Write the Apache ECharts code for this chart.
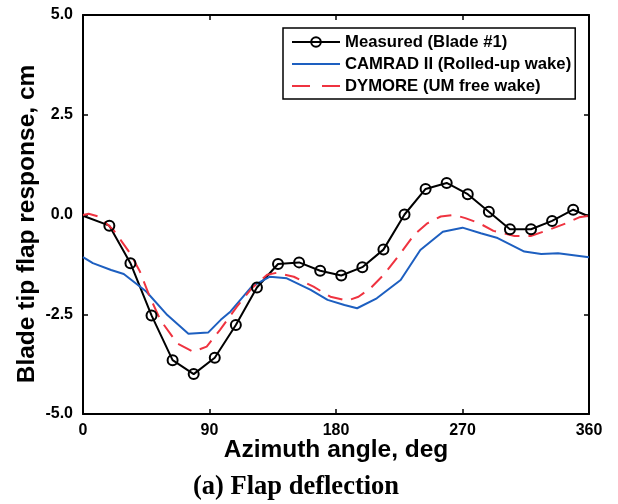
<!DOCTYPE html>
<html>
<head>
<meta charset="utf-8">
<script src="https://cdn.jsdelivr.net/npm/echarts@6/dist/echarts.min.js"></script>
<style>
  html, body { margin: 0; padding: 0; background: #fff; }
  #chart { width: 618px; height: 504px; }
</style>
</head>
<body>
<div id="chart"></div>
<script>
// Azimuth stations and blade tip flap response (cm)
const azMeasured = [0, 18.75, 33.75, 48.75, 63.75, 78.75, 93.75, 108.75, 123.75, 138.75,
  153.75, 168.75, 183.75, 198.75, 213.75, 228.75, 243.75, 258.75, 273.75, 288.75,
  303.75, 318.75, 333.75, 348.75, 360];
const measured = [-0.03, -0.28, -1.22, -2.53, -3.65, -4.00, -3.59, -2.77, -1.83, -1.24,
  -1.20, -1.41, -1.53, -1.32, -0.88, 0.00, 0.64, 0.79, 0.51, 0.07,
  -0.37, -0.37, -0.16, 0.12, -0.05];

const azCamrad = [0, 7, 20, 29, 45, 60, 75, 89, 98, 105, 120, 133, 145, 162, 174,
  186, 195, 209, 226, 240, 256, 270, 283, 295, 314, 326, 338, 360];
const camrad = [-1.07, -1.22, -1.39, -1.49, -1.93, -2.52, -2.99, -2.96, -2.64, -2.43,
  -1.81, -1.56, -1.60, -1.89, -2.14, -2.27, -2.35, -2.10, -1.64, -0.89,
  -0.43, -0.33, -0.47, -0.59, -0.93, -0.99, -0.97, -1.07];

const azDymore = [0, 4, 11, 21.5, 33.5, 40.5, 47.5, 55, 67, 78.5, 88, 97.5, 109.5, 120,
  131, 138, 150, 164, 176, 188, 196, 204.5, 214, 226, 235.5, 245, 254.5, 264, 272,
  282, 292, 307, 318.5, 331, 344.5, 353, 360];
const dymore = [-0.01, 0.02, -0.05, -0.38, -0.97, -1.43, -2.06, -2.64, -3.23, -3.44,
  -3.31, -2.89, -2.31, -1.85, -1.51, -1.46, -1.56, -1.81, -2.06, -2.16, -2.06,
  -1.85, -1.51, -0.97, -0.51, -0.22, -0.05, -0.01, -0.09, -0.22, -0.41, -0.54,
  -0.54, -0.39, -0.21, -0.07, -0.03];

const xTicks = { min: 0, max: 360, interval: 90 };
const yTicks = { min: -5, max: 5, interval: 2.5 };

const sans = 'Liberation Sans, Arial, Helvetica, sans-serif';
const serif = 'Liberation Serif, Times New Roman, serif';

// Measured curve: open circles at the sampled stations, plain line at the 0/360 ends
const measuredData = azMeasured.map((a, i) => {
  const item = { value: [a, measured[i]] };
  if (i === 0 || i === azMeasured.length - 1) item.symbol = 'none';
  return item;
});
const camradData = azCamrad.map((a, i) => [a, camrad[i]]);
const dymoreData = azDymore.map((a, i) => [a, dymore[i]]);

const axisLine = { show: true, onZero: false, lineStyle: { color: '#000', width: 2 } };
const axisTick = { show: true, inside: true, length: 5, lineStyle: { color: '#000', width: 1.5 } };

const chart = echarts.init(document.getElementById('chart'), null, { renderer: 'canvas' });

chart.setOption({
  animation: false,
  backgroundColor: '#fff',
  grid: { left: 83, right: 29, top: 15, bottom: 90, containLabel: false },
  xAxis: [
    {
      type: 'value', position: 'bottom', ...xTicks,
      axisLine, axisTick, splitLine: { show: false },
      axisLabel: { color: '#000', fontFamily: sans, fontWeight: 'bold', fontSize: 16, margin: 9 }
    },
    {
      type: 'value', position: 'top', ...xTicks,
      axisLine, axisTick, splitLine: { show: false }, axisLabel: { show: false }
    }
  ],
  yAxis: [
    {
      type: 'value', position: 'left', ...yTicks,
      axisLine, axisTick, splitLine: { show: false },
      axisLabel: {
        color: '#000', fontFamily: sans, fontWeight: 'bold', fontSize: 16, margin: 10,
        formatter: v => v.toFixed(1)
      }
    },
    {
      type: 'value', position: 'right', ...yTicks,
      axisLine, axisTick, splitLine: { show: false }, axisLabel: { show: false }
    }
  ],
  legend: {
    orient: 'vertical',
    left: 283, top: 28,
    padding: [4, 4, 3, 8],
    itemGap: 2,
    itemWidth: 48,
    itemHeight: 12,
    backgroundColor: '#fff',
    borderColor: '#000',
    borderWidth: 1.5,
    borderRadius: 0,
    textStyle: { color: '#000', fontFamily: sans, fontWeight: 'bold', fontSize: 16.7, lineHeight: 20 },
    data: [
      { name: 'Measured (Blade #1)' },
      { name: 'CAMRAD II (Rolled-up wake)', itemStyle: { opacity: 0 } },
      { name: 'DYMORE (UM free wake)', itemStyle: { opacity: 0 }, lineStyle: { type: [18, 12] } }
    ]
  },
  series: [
    {
      name: 'Measured (Blade #1)',
      type: 'line',
      data: measuredData,
      symbol: 'circle',
      symbolSize: 10,
      showAllSymbol: true,
      lineStyle: { color: '#000', width: 2 },
      itemStyle: { color: 'rgba(255,255,255,0)', borderColor: '#000', borderWidth: 2 }
    },
    {
      name: 'CAMRAD II (Rolled-up wake)',
      type: 'line',
      data: camradData,
      symbol: 'none',
      lineStyle: { color: '#1d5fc0', width: 2 },
      itemStyle: { color: '#1d5fc0' }
    },
    {
      name: 'DYMORE (UM free wake)',
      type: 'line',
      data: dymoreData,
      symbol: 'none',
      lineStyle: { color: '#ef3340', width: 2, type: [15, 9] },
      itemStyle: { color: '#ef3340' }
    }
  ],
  graphic: [
    {
      type: 'text',
      x: 27, y: 224, rotation: Math.PI / 2,
      style: {
        text: 'Blade tip flap response, cm',
        font: 'bold 24.5px ' + sans,
        fill: '#000', align: 'center', verticalAlign: 'middle'
      }
    },
    {
      type: 'text',
      x: 336, y: 450,
      style: {
        text: 'Azimuth angle, deg',
        font: 'bold 24.5px ' + sans,
        fill: '#000', align: 'center', verticalAlign: 'middle'
      }
    },
    {
      type: 'text',
      x: 193, y: 487,
      style: {
        text: '(a) Flap deflection',
        font: 'bold 26.5px ' + serif,
        fill: '#000', align: 'left', verticalAlign: 'middle'
      }
    }
  ]
});
</script>
</body>
</html>
